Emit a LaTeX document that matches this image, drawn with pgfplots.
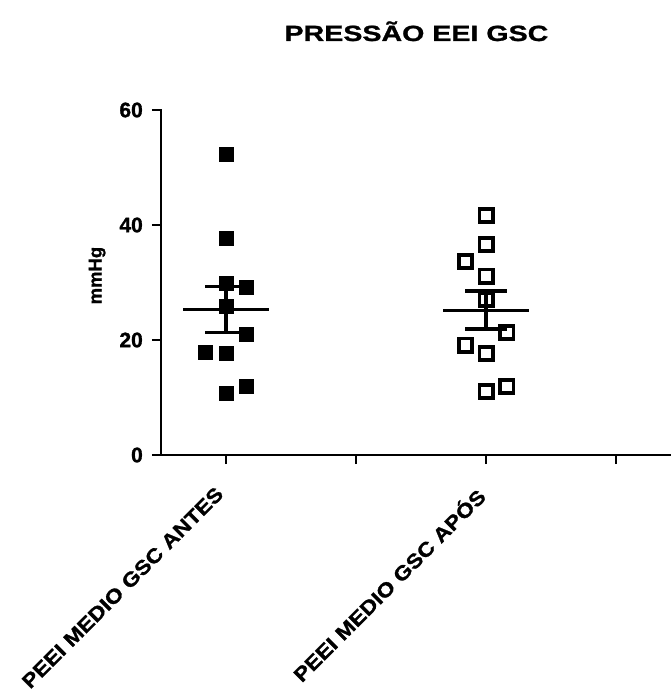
\documentclass[border=0pt]{standalone}
\usepackage{fontspec}
\setmainfont{Liberation Sans}[BoldFeatures={FakeBold=1.2}]
\newfontfamily\widefont[FakeStretch=1.3, BoldFeatures={FakeBold=1.2}]{Liberation Sans}
\newfontfamily\labfont[FakeStretch=1.15, BoldFeatures={FakeBold=1.2}]{Liberation Sans}
\usepackage{pgfplots}
\pgfplotsset{compat=1.18}
\begin{document}
\begin{tikzpicture}
\begin{axis}[
  at={(161pt,238pt)}, anchor=south west,
  scale only axis,
  width=510.9pt, height=345pt,
  xmin=0.5, xmax=4.43, ymin=0, ymax=60,
  axis x line*=bottom, axis y line*=left,
  axis line style={line width=2.7pt, black, line cap=rect},
  tick align=outside,
  major tick length=9pt,
  every tick/.style={line width=2.7pt, black},
  xtick={1,2,3,4},
  xticklabels={PEEI MEDIO GSC ANTES,,PEEI MEDIO GSC APÓS,},
  xticklabel style={rotate=45, anchor=north east, inner sep=1pt, xshift=-22pt, yshift=-6pt,
    font=\labfont\bfseries\fontsize{20}{24}\selectfont},
  ytick={0,20,40,60},
  yticklabel style={font=\bfseries\fontsize{21}{25}\selectfont, inner sep=2pt, xshift=-7pt},
  /pgf/number format/assume math mode=true,
  ylabel={mmHg},
  ylabel style={at={(axis description cs:-0.125,0.52)}, anchor=center,
    font=\bfseries\fontsize{18.5}{22}\selectfont},
  title={PRESSÃO EEI GSC},
  title style={at={(axis description cs:0.5,1)}, anchor=base, yshift=63pt,
    font=\widefont\bfseries\fontsize{22}{26}\selectfont},
  clip=false,
]
% mean and SEM, group 1
\addplot[black, line width=3.5pt, line cap=butt] coordinates {(0.67,25.3) (1.33,25.3)};
\addplot[black, line width=3.5pt, line cap=butt] coordinates {(0.84,29.3) (1.16,29.3)};
\addplot[black, line width=3.5pt, line cap=butt] coordinates {(0.84,21.3) (1.16,21.3)};
\addplot[black, line width=3.5pt, line cap=butt] coordinates {(1,21.3) (1,29.3)};
% mean and SEM, group 2
\addplot[black, line width=3.5pt, line cap=butt] coordinates {(2.67,25.1) (3.33,25.1)};
\addplot[black, line width=3.5pt, line cap=butt] coordinates {(2.84,28.5) (3.16,28.5)};
\addplot[black, line width=3.5pt, line cap=butt] coordinates {(2.84,21.9) (3.16,21.9)};
\addplot[black, line width=3.5pt, line cap=butt] coordinates {(3,21.9) (3,28.5)};
% group 1 points (filled squares)
\addplot[only marks, mark=square*, mark size=7pt, black, mark options={line width=0.8pt}] coordinates {
(1,52.2) (1,37.6) (1,29.8) (1.16,29.1) (1,25.8) (1.16,20.9) (0.84,17.8) (1,17.6) (1.16,12.0) (1,10.7)
};
% group 2 points (open squares)
\addplot[only marks, mark=square, mark size=6.6pt, black, mark options={line width=3.8pt, fill=none}] coordinates {
(3,41.6) (3,36.6) (2.84,33.6) (3,31.1) (3,27.0) (3.16,21.3) (2.84,19.1) (3,17.7) (3,11.0) (3.16,11.9)
};
\end{axis}
\pgfresetboundingbox
\path (0,0) rectangle (670pt,693pt);
\end{tikzpicture}
\end{document}
